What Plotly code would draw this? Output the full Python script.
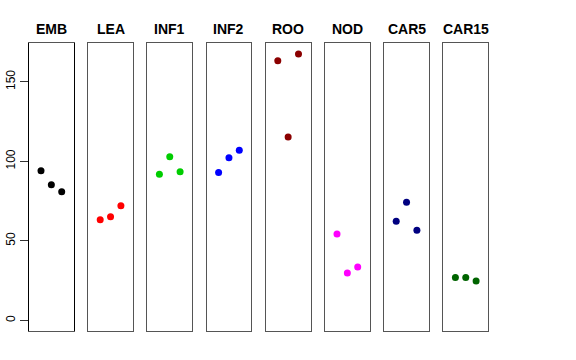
import plotly.graph_objects as go

panels = ["EMB", "LEA", "INF1", "INF2", "ROO", "NOD", "CAR5", "CAR15"]
colors = ["#000000", "#FF0000", "#00CD00", "#0000FF", "#8B0000", "#FF00FF", "#000080", "#006400"]
values = [
    [94.1, 85.3, 80.9],
    [63.3, 65.2, 72.1],
    [91.8, 102.9, 93.5],
    [92.9, 102.3, 106.9],
    [163.3, 115.3, 167.5],
    [54.3, 29.8, 33.5],
    [62.3, 74.2, 56.6],
    [27.0, 27.0, 24.7],
]
positions = [1, 2, 3]
y_ticks = [0, 50, 100, 150]

W, H = 576, 360
left0, step, pw = 29.0, 59.2, 44.7
top_px, bot_px = 43.3, 331.0
title_px = 29.0

fig = go.Figure()
ymax = max(max(v) for v in values)
yr = [0 - 0.04 * ymax, ymax * 1.04]

for i, (name, col, vals) in enumerate(zip(panels, colors, values)):
    n = i + 1
    xa = "xaxis" if n == 1 else f"xaxis{n}"
    ya = "yaxis" if n == 1 else f"yaxis{n}"
    fig.add_trace(go.Scatter(
        x=positions, y=vals, mode="markers",
        marker=dict(color=col, size=7, line=dict(width=0)),
        xaxis=f"x{n if n > 1 else ''}", yaxis=f"y{n if n > 1 else ''}",
        showlegend=False, hoverinfo="skip"))
    x0 = (left0 + i * step) / W
    x1 = (left0 + i * step + pw) / W
    fig.layout[xa] = dict(domain=[x0, x1], range=[-0.16, 4.16], showgrid=False,
                          zeroline=False, showticklabels=False, ticks="",
                          showline=True, mirror=True, linecolor="#555", linewidth=1,
                          automargin=False,
                          anchor=f"y{n if n > 1 else ''}")
    ydict = dict(domain=[(H - bot_px) / H, (H - top_px) / H], range=yr, showgrid=False,
                 zeroline=False, showline=True, mirror=True, linecolor="#555", linewidth=1,
                 automargin=False,
                 anchor=f"x{n if n > 1 else ''}")
    if n == 1:
        ydict.update(tickvals=y_ticks, ticks="outside", ticklen=8, tickcolor="#333",
                     tickangle=-90, tickfont=dict(size=12, color="#000",
                                                  family="Liberation Sans, Arial"),
                     showticklabels=True, linecolor="#000")
    else:
        ydict.update(showticklabels=False, ticks="")
    fig.layout[ya] = ydict
    fig.add_annotation(text=f"<b>{name}</b>", x=(x0 + x1) / 2, y=(H - title_px) / H,
                       xref="paper", yref="paper", xanchor="center", yanchor="middle",
                       showarrow=False,
                       font=dict(size=14, color="#000", family="Liberation Sans, Arial"))

fig.update_layout(width=W, height=H, margin=dict(l=0, r=0, t=0, b=0),
                  plot_bgcolor="white", paper_bgcolor="white")
fig.write_html("out.html", config={"displayModeBar": False},
               post_script="document.body.style.margin='0';document.body.style.padding='0';")
